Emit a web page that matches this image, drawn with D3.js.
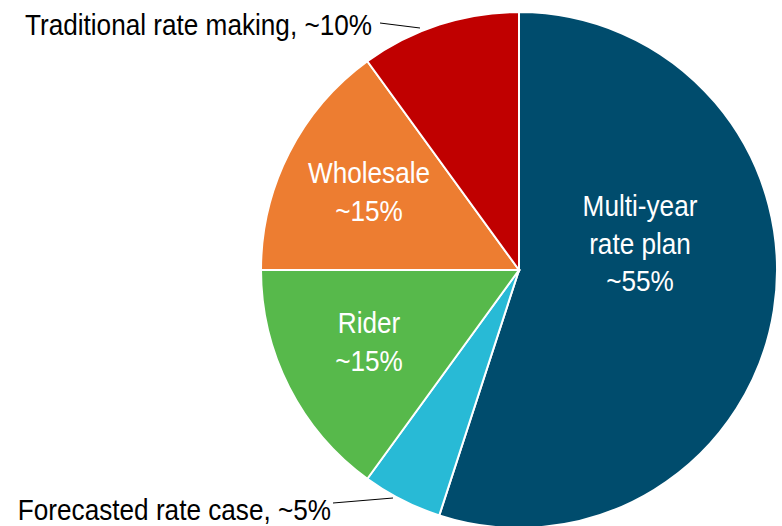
<!DOCTYPE html>
<html>
<head>
<meta charset="utf-8">
<script src="https://cdn.jsdelivr.net/npm/d3@7"></script>
<style>
  body { margin: 0; background: #fff; }
  text { font-family: "Liberation Sans Narrow", "Arial Narrow", "Liberation Sans", Arial, sans-serif; }
</style>
</head>
<body>
<div class="chart"></div>
<script>
var categories = ["Multi-year rate plan", "Forecasted rate case", "Rider", "Wholesale", "Traditional rate making"];
var shares = [55, 5, 15, 15, 10];
var colors = ["#004C6D", "#28BAD6", "#57B94B", "#ED7D31", "#C00000"];
var insideLabels = [["Multi-year", "rate plan", "~55%"], null, ["Rider", "~15%"], ["Wholesale", "~15%"], null];
var outsideLabels = [null, "Forecasted rate case, ~5%", null, null, "Traditional rate making, ~10%"];

function loadChart(){
  var width = 782, height = 526;
  var cx = 519, cy = 270, radius = 258;
  var squeeze = 0.872;  // narrow font look

  var svg = d3.select(".chart").append("svg")
              .attr("width", width)
              .attr("height", height);

  var g = svg.append("g").attr("transform", "translate(" + cx + "," + cy + ")");

  var data = categories.map(function (c, i) {
    return { name: c, value: shares[i], color: colors[i], inside: insideLabels[i], outside: outsideLabels[i] };
  });

  var pie = d3.pie().sort(null).value(function (d) { return d.value; });
  var arc = d3.arc().innerRadius(0).outerRadius(radius);
  var arcs = pie(data);

  g.selectAll("path")
    .data(arcs)
    .enter()
    .append("path")
    .attr("d", arc)
    .style("fill", function (d) { return d.data.color; })
    .style("stroke", "#fff")
    .style("stroke-width", 2);

  // inside labels, placed like the original (middle baseline)
  var insidePos = [[121, -16.5], null, [-150, 82], [-150, -68], null];
  var lineH = 37.5;
  arcs.forEach(function (d, i) {
    if (!d.data.inside) return;
    var p = insidePos[i];
    var n = d.data.inside.length;
    var t = g.append("text")
             .attr("transform", "translate(" + p[0] + "," + p[1] + ") scale(" + squeeze + ",1)")
             .attr("text-anchor", "middle")
             .attr("fill", "#fff")
             .style("font-size", "30px");
    d.data.inside.forEach(function (line, k) {
      t.append("tspan")
       .attr("x", 0)
       .attr("y", (k - (n - 1) / 2) * lineH)
       .text(line);
    });
  });

  // outside labels with leader lines
  var outsideInfo = {
    1: { text: [331, 520], line: [[-186, 233], [-126, 228]] },
    4: { text: [372, 35], line: [[-139, -247], [-99, -242]] }
  };
  arcs.forEach(function (d, i) {
    var o = outsideInfo[i];
    if (!o) return;
    g.append("line")
     .attr("x1", o.line[0][0]).attr("y1", o.line[0][1])
     .attr("x2", o.line[1][0]).attr("y2", o.line[1][1])
     .style("stroke", "#000")
     .style("stroke-width", 1);
    svg.append("text")
     .attr("transform", "translate(" + o.text[0] + "," + o.text[1] + ") scale(" + squeeze + ",1)")
     .attr("text-anchor", "end")
     .attr("fill", "#000")
     .style("font-size", "30px")
     .text(d.data.outside);
  });
}

loadChart();
</script>
</body>
</html>
